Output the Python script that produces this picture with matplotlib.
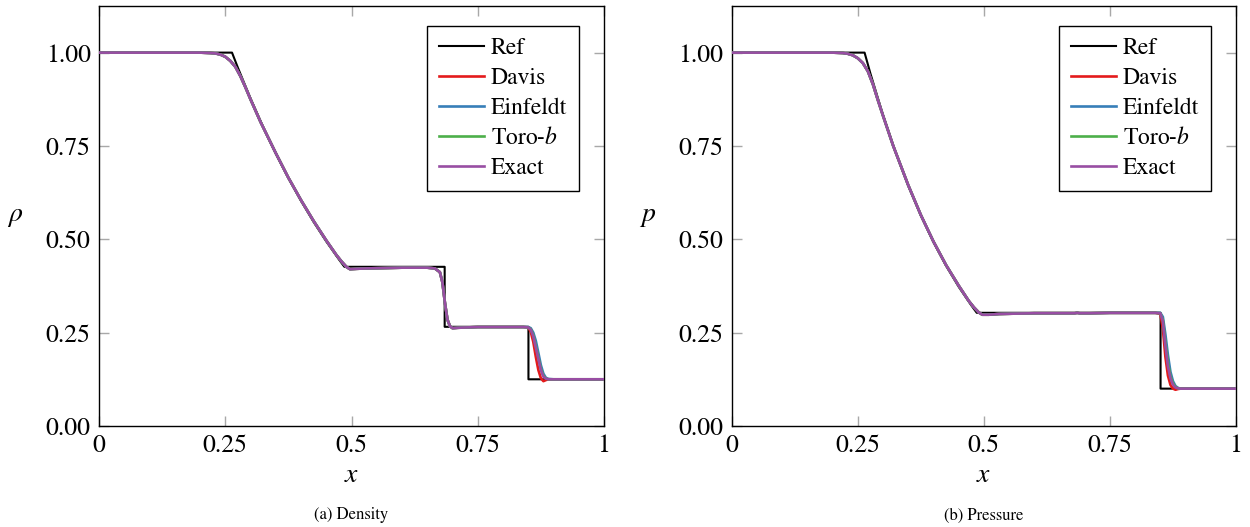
import matplotlib
matplotlib.use("Agg")
import matplotlib.pyplot as plt
import numpy as np

plt.rcParams['font.family'] = ['STIXGeneral', 'Liberation Serif', 'DejaVu Serif']
plt.rcParams['mathtext.fontset'] = 'stix'

# ---------------- data ----------------
# Reference (sharp) solution
ref_x = [0.0, 0.2634, 0.275, 0.30, 0.325, 0.35, 0.375, 0.40, 0.425, 0.45, 0.475, 0.4859,
         0.6845, 0.6845, 0.8504, 0.8504, 1.0]
ref_rho = [1.0, 1.0, 0.9597, 0.8776, 0.8010, 0.7299, 0.6640, 0.6029, 0.5464, 0.4943, 0.4462, 0.4263,
           0.4263, 0.2656, 0.2656, 0.125, 0.125]
ref_p = [1.0, 1.0, 0.9441, 0.8330, 0.7329, 0.6436, 0.5637, 0.4925, 0.4291, 0.3729, 0.3231, 0.3031,
         0.3031, 0.3031, 0.3031, 0.1, 0.1]

# Numerical solutions: common part (x < 0.85)
num_x = [0.0, 0.1, 0.2, 0.22, 0.23, 0.24, 0.25, 0.26, 0.27, 0.28, 0.29, 0.30, 0.32, 0.35, 0.375,
         0.40, 0.425, 0.45, 0.47, 0.48, 0.49, 0.497, 0.51, 0.53, 0.6, 0.65, 0.665, 0.675, 0.68,
         0.685, 0.69, 0.695, 0.70, 0.71, 0.75, 0.8, 0.84]
num_rho = [1.0, 1.0, 1.0, 0.999, 0.998, 0.995, 0.989, 0.978, 0.962, 0.937, 0.907, 0.875, 0.814, 0.731, 0.665,
           0.605, 0.549, 0.497, 0.458, 0.441, 0.426, 0.420, 0.421, 0.422, 0.424, 0.424, 0.422, 0.412, 0.385,
           0.330, 0.285, 0.267, 0.262, 0.263, 0.265, 0.265, 0.265]
num_p = [1.0, 1.0, 1.0, 0.999, 0.997, 0.993, 0.985, 0.972, 0.950, 0.915, 0.872, 0.831, 0.751, 0.645, 0.565,
         0.494, 0.431, 0.376, 0.335, 0.318, 0.304, 0.298, 0.298, 0.300, 0.302, 0.302, 0.302, 0.302, 0.302,
         0.303, 0.302, 0.302, 0.302, 0.302, 0.303, 0.303, 0.303]

# Shock region (x >= 0.85), per scheme
shock_x = [0.85, 0.855, 0.86, 0.865, 0.87, 0.875, 0.88, 0.885, 0.89, 0.9, 1.0]
rho_shock = {
    'Davis':    [0.264, 0.252, 0.225, 0.185, 0.150, 0.128, 0.120, 0.123, 0.125, 0.125, 0.125],
    'Einfeldt': [0.265, 0.262, 0.250, 0.228, 0.196, 0.163, 0.140, 0.129, 0.126, 0.125, 0.125],
    'Toro-b':   [0.264, 0.259, 0.243, 0.214, 0.183, 0.153, 0.134, 0.127, 0.125, 0.125, 0.125],
    'Exact':    [0.264, 0.258, 0.240, 0.210, 0.180, 0.150, 0.132, 0.127, 0.125, 0.125, 0.125],
}
p_shock = {
    'Davis':    [0.300, 0.260, 0.185, 0.135, 0.110, 0.100, 0.097, 0.099, 0.100, 0.100, 0.100],
    'Einfeldt': [0.303, 0.292, 0.245, 0.190, 0.145, 0.120, 0.107, 0.102, 0.100, 0.100, 0.100],
    'Toro-b':   [0.302, 0.283, 0.225, 0.170, 0.133, 0.114, 0.105, 0.101, 0.100, 0.100, 0.100],
    'Exact':    [0.302, 0.280, 0.215, 0.160, 0.128, 0.111, 0.103, 0.101, 0.100, 0.100, 0.100],
}

schemes = ['Davis', 'Einfeldt', 'Toro-b', 'Exact']
labels = {'Davis': 'Davis', 'Einfeldt': 'Einfeldt', 'Toro-b': 'Toro-$b$', 'Exact': 'Exact'}
colors = {'Davis': '#e41a1c', 'Einfeldt': '#377eb8', 'Toro-b': '#4daf4a', 'Exact': '#984ea3'}

xticks = [0, 0.25, 0.5, 0.75, 1]
xticklabels = ['0', '0.25', '0.5', '0.75', '1']
yticks = [0, 0.25, 0.5, 0.75, 1.0]
yticklabels = ['0.00', '0.25', '0.50', '0.75', '1.00']

# ---------------- figure ----------------
fig = plt.figure(figsize=(12.5, 5.27), dpi=100)
axes_pos = [[0.0792, 0.1917, 0.404, 0.797], [0.5854, 0.1917, 0.4034, 0.797]]
panels = [
    (ref_rho, num_rho, rho_shock, r'$\rho$', '(a) Density'),
    (ref_p, num_p, p_shock, r'$p$', '(b) Pressure'),
]

for pos, (refy, numy, shock, ylab, cap) in zip(axes_pos, panels):
    ax = fig.add_axes(pos)
    ax.plot(ref_x, refy, color='black', lw=1.5, label='Ref', zorder=2)
    for s in schemes:
        xs = num_x + shock_x
        ys = numy + shock[s]
        ax.plot(xs, ys, color=colors[s], lw=1.9, label=labels[s], zorder=3)
    ax.set_xlim(0, 1)
    ax.set_ylim(0, 1.125)
    ax.set_xticks(xticks)
    ax.set_xticklabels(xticklabels)
    ax.set_yticks(yticks)
    ax.set_yticklabels(yticklabels)
    ax.tick_params(direction='in', top=True, right=True, length=7, width=1.0,
                   color='#a8a8a8', labelsize=18.5, pad=6)
    for sp in ax.spines.values():
        sp.set_color('black')
        sp.set_linewidth(1.0)
    ax.set_xlabel('$x$', fontsize=20, labelpad=3)
    ax.set_ylabel(ylab, fontsize=20, rotation=0, labelpad=22, va='center')
    leg = ax.legend(loc='upper right', bbox_to_anchor=(0.950, 0.952), borderaxespad=0,
                    fontsize=17, handlelength=1.9, handletextpad=0.3, labelspacing=0.35,
                    borderpad=0.5, fancybox=False, framealpha=1, edgecolor='black')
    leg.get_frame().set_linewidth(1.0)
    ax.text(0.5, -0.213, cap, transform=ax.transAxes, ha='center', va='center', fontsize=12)

fig.savefig('out.png', dpi=100)
